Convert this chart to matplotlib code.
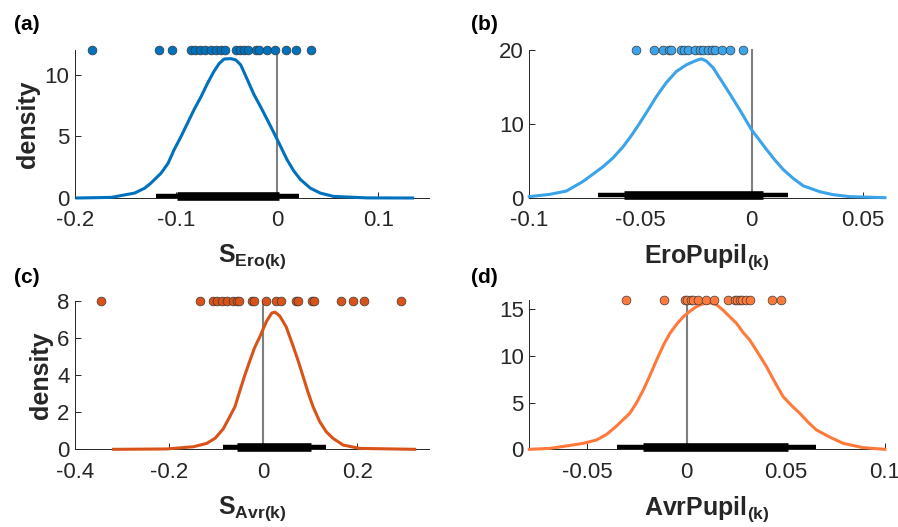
import matplotlib

matplotlib.use("Agg")
import matplotlib.pyplot as plt

plt.rcParams.update(
    {
        "font.family": "Liberation Sans",
        "font.size": 15,
        "mathtext.fontset": "custom",
        "mathtext.rm": "Liberation Sans",
        "mathtext.bf": "Liberation Sans:bold",
        "axes.facecolor": "white",
        "figure.facecolor": "white",
    }
)

# ---- panel (a): S_Ero(k)
a_kde_x = [-0.198, -0.164, -0.141, -0.131, -0.125, -0.115, -0.108, -0.102, -0.095, -0.0885,
           -0.082, -0.0754, -0.0689, -0.0623, -0.0574, -0.0525, -0.0459, -0.041, -0.0361,
           -0.0295, -0.023, -0.0164, -0.0098, -0.0033, 0.0033, 0.0098, 0.0164, 0.023, 0.0328,
           0.0426, 0.0557, 0.0885, 0.134]
a_kde_y = [0.0, 0.05, 0.4, 0.8, 1.2, 2.0, 2.8, 3.9, 5.0, 6.1,
           7.2, 8.2, 9.3, 10.3, 10.9, 11.27, 11.3, 11.2, 10.8,
           9.6, 8.4, 7.4, 6.35, 5.3, 4.2, 3.1, 2.2, 1.5, 0.8,
           0.4, 0.13, 0.01, 0.0]
a_samples = [-0.1836, -0.1164, -0.1043, -0.0852, -0.081, -0.0764, -0.0715, -0.0656, -0.0607,
             -0.0557, -0.0518, -0.041, -0.0367, -0.0328, -0.0289, -0.0213, -0.018, -0.0098,
             -0.0026, 0.0092, 0.019, 0.0334]
a_ci_outer = [-0.12, 0.022]
a_ci_inner = [-0.099, 0.002]

# ---- panel (b): EroPupil(k)
b_kde_x = [-0.100, -0.0908, -0.0833, -0.0758, -0.0713, -0.0668, -0.0623, -0.0578, -0.0541,
           -0.0503, -0.0465, -0.0428, -0.0383, -0.0338, -0.0293, -0.0248, -0.0225, -0.0203,
           -0.0173, -0.0128, -0.009, -0.0053, 0.0, 0.0038, 0.0068, 0.0105, 0.0143, 0.0188,
           0.0233, 0.0308, 0.0368, 0.0443, 0.060]
b_kde_y = [0.14, 0.45, 0.9, 2.2, 3.2, 4.2, 5.4, 6.9, 8.4,
           10.1, 11.9, 13.7, 15.6, 17.1, 18.0, 18.6, 18.8, 18.5,
           17.6, 15.5, 13.7, 11.9, 9.2, 7.7, 6.5, 5.1, 3.8, 2.6,
           1.6, 0.8, 0.4, 0.14, 0.0]
b_samples = [-0.052, -0.044, -0.0399, -0.0373, -0.0362, -0.0319, -0.0304, -0.0284, -0.0255,
             -0.0233, -0.0218, -0.0195, -0.0176, -0.0165, -0.0135, -0.0099, -0.0037]
b_ci_outer = [-0.069, 0.0165]
b_ci_inner = [-0.0575, 0.005]

# ---- panel (c): S_Avr(k)
c_kde_x = [-0.318, -0.205, -0.148, -0.12, -0.102, -0.085, -0.071, -0.06, -0.049, -0.039,
           -0.028, -0.018, -0.007, 0.007, 0.018, 0.025, 0.035, 0.049, 0.064, 0.074,
           0.085, 0.095, 0.106, 0.12, 0.134, 0.148, 0.17, 0.205, 0.322]
c_kde_y = [0.0, 0.02, 0.14, 0.32, 0.6, 1.1, 1.76, 2.3, 3.2, 4.0,
           4.8, 5.5, 6.08, 6.9, 7.35, 7.4, 7.2, 6.6, 5.54, 4.8,
           3.92, 3.1, 2.3, 1.5, 0.95, 0.6, 0.23, 0.05, 0.0]
c_samples = [-0.344, -0.134, -0.106, -0.099, -0.088, -0.077, -0.064, -0.055, -0.052, -0.024,
             -0.019, 0.007, 0.028, 0.037, 0.069, 0.073, 0.103, 0.108, 0.166, 0.191, 0.215, 0.292]
c_ci_outer = [-0.086, 0.134]
c_ci_inner = [-0.055, 0.102]

# ---- panel (d): AvrPupil(k)
d_kde_x = [-0.0793, -0.069, -0.0605, -0.0521, -0.0454, -0.0403, -0.0353, -0.0319, -0.0286,
           -0.0252, -0.0218, -0.0185, -0.0151, -0.0118, -0.0084, -0.005, -0.0017, 0.0017,
           0.005, 0.0084, 0.0118, 0.0151, 0.0185, 0.0218, 0.0252, 0.0286, 0.0319, 0.0361,
           0.0403, 0.0445, 0.0487, 0.0529, 0.0571, 0.0613, 0.0655, 0.0723, 0.079, 0.089, 0.100]
d_kde_y = [0.0, 0.1, 0.36, 0.64, 1.0, 1.6, 2.5, 3.2, 3.86,
           5.0, 6.36, 7.9, 9.57, 11.1, 12.43, 13.4, 14.2, 14.8,
           15.3, 15.6, 15.7, 15.5, 14.9, 14.2, 13.5, 12.5, 11.7, 10.3,
           8.86, 7.2, 5.64, 4.7, 3.86, 2.9, 2.07, 1.3, 0.64, 0.18, 0.0]
d_samples = [-0.0303, -0.0113, -0.0008, 0.0003, 0.002, 0.0034, 0.0059, 0.0097, 0.014,
             0.0207, 0.0244, 0.0255, 0.0269, 0.0282, 0.0299, 0.0319, 0.0429, 0.0476]
d_ci_outer = [-0.0353, 0.0655]
d_ci_inner = [-0.0218, 0.0513]

panels = [
    dict(tag="(a)", kx=a_kde_x, ky=a_kde_y, s=a_samples, outer=a_ci_outer, inner=a_ci_inner,
         color="#0072BD", xlim=(-0.2, 0.15), ymax=12, xt=[-0.2, -0.1, 0, 0.1],
         xtl=["-0.2", "-0.1", "0", "0.1"], yt=[0, 5, 10], xlabel=r"$\mathbf{S_{Ero(k)}}$",
         ylabel="density", rect=[0.0835, 0.6243, 0.394, 0.2808], tagpos=(0.016, 0.953)),
    dict(tag="(b)", kx=b_kde_x, ky=b_kde_y, s=b_samples, outer=b_ci_outer, inner=b_ci_inner,
         color="#3AA3E9", xlim=(-0.1, 0.06), ymax=20, xt=[-0.1, -0.05, 0, 0.05],
         xtl=["-0.1", "-0.05", "0", "0.05"], yt=[0, 10, 20], xlabel=r"$\mathbf{EroPupil_{(k)}}$",
         ylabel=None, rect=[0.5894, 0.6249, 0.396, 0.2802], tagpos=(0.524, 0.953)),
    dict(tag="(c)", kx=c_kde_x, ky=c_kde_y, s=c_samples, outer=c_ci_outer, inner=c_ci_inner,
         color="#D95319", xlim=(-0.4, 0.352), ymax=8, xt=[-0.4, -0.2, 0, 0.2],
         xtl=["-0.4", "-0.2", "0", "0.2"], yt=[0, 2, 4, 6, 8], xlabel=r"$\mathbf{S_{Avr(k)}}$",
         ylabel="density", rect=[0.0835, 0.1474, 0.394, 0.2814], tagpos=(0.016, 0.474)),
    dict(tag="(d)", kx=d_kde_x, ky=d_kde_y, s=d_samples, outer=d_ci_outer, inner=d_ci_inner,
         color="#FF7A3A", xlim=(-0.0793, 0.1), ymax=16, xt=[-0.05, 0, 0.05, 0.1],
         xtl=["-0.05", "0", "0.05", "0.1"], yt=[0, 5, 10, 15], xlabel=r"$\mathbf{AvrPupil_{(k)}}$",
         ylabel=None, rect=[0.5894, 0.1474, 0.396, 0.2833], tagpos=(0.524, 0.474)),
]

fig = plt.figure(figsize=(8.98, 5.27), dpi=100)
dark = "#262626"

for p in panels:
    ax = fig.add_axes(p["rect"])
    ymax = p["ymax"]
    ax.set_xlim(*p["xlim"])
    ax.set_ylim(0, ymax)

    ax.plot([0, 0], [0, ymax], color="#7f7f7f", lw=1.5, zorder=2, clip_on=False)
    ax.plot(p["kx"], p["ky"], color=p["color"], lw=2.2, zorder=3, clip_on=False)

    yb = 0.016 * ymax
    ax.plot(p["outer"], [yb, yb], color="black", lw=3.2, solid_capstyle="butt", zorder=4, clip_on=False)
    ax.plot(p["inner"], [yb, yb], color="black", lw=6.2, solid_capstyle="butt", zorder=4, clip_on=False)

    ax.scatter(p["s"], [ymax] * len(p["s"]), s=40, color=p["color"], edgecolors="#3a3a3a",
               linewidths=0.5, zorder=5, clip_on=False)

    for side in ("top", "right"):
        ax.spines[side].set_visible(False)
    for side in ("left", "bottom"):
        ax.spines[side].set_color(dark)
        ax.spines[side].set_linewidth(0.7)

    ax.set_xticks(p["xt"])
    ax.set_xticklabels(p["xtl"])
    ax.set_yticks(p["yt"])
    ax.tick_params(direction="in", length=4, width=0.7, colors=dark, labelsize=16)
    ax.tick_params(axis="x", pad=9)
    ax.tick_params(axis="y", pad=4)

    ax.set_xlabel(p["xlabel"], fontsize=18, color=dark, labelpad=8)
    if p["ylabel"]:
        ax.set_ylabel(p["ylabel"], fontsize=18, fontweight="bold", color=dark, labelpad=3)

    fig.text(p["tagpos"][0], p["tagpos"][1], p["tag"], fontsize=15, fontweight="bold",
             ha="left", va="center", color="black")

fig.savefig("out.png", dpi=100)
